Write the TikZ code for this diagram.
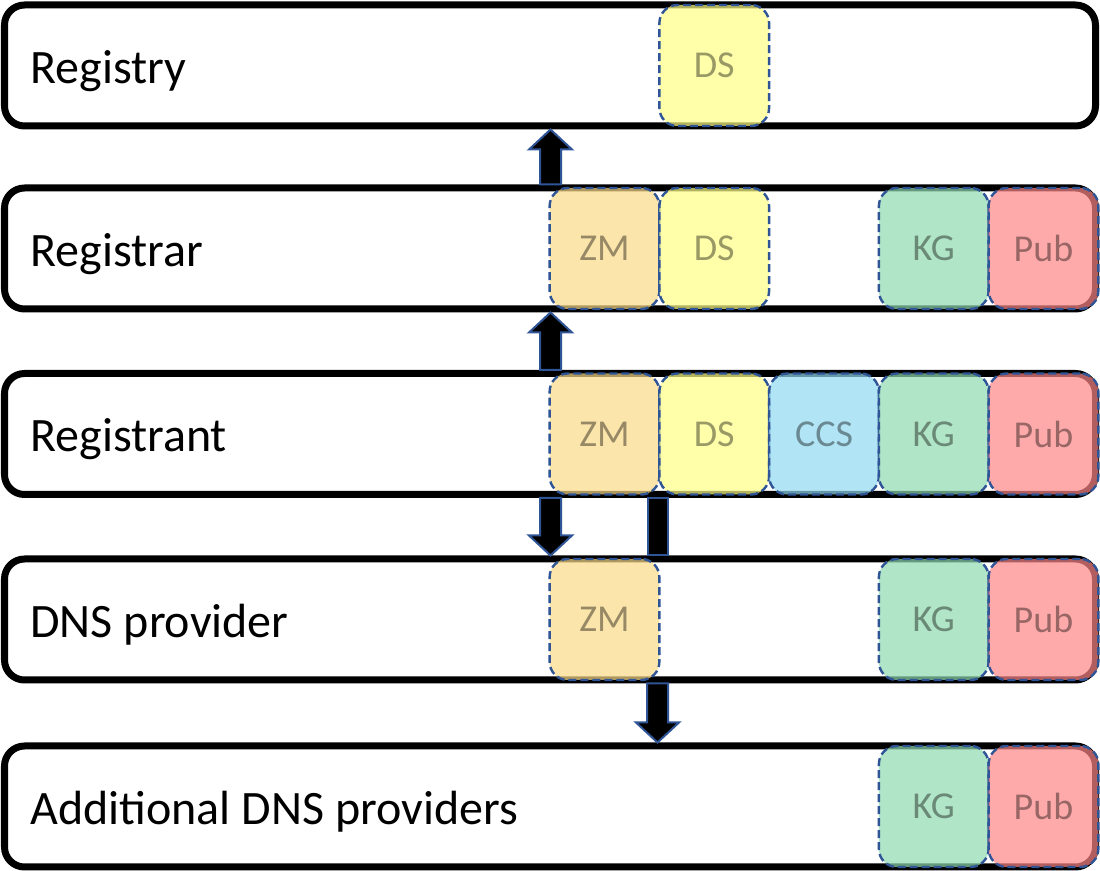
\documentclass[tikz,border=0pt]{standalone}
\usepackage{fontspec}
\setmainfont{Carlito}
\usetikzlibrary{calc}

\definecolor{zmfill}{RGB}{252,219,134}
\definecolor{dsfill}{RGB}{255,255,134}
\definecolor{ccsfill}{RGB}{145,219,241}
\definecolor{kgfill}{RGB}{145,219,176}
\definecolor{pubfill}{RGB}{255,134,134}
\definecolor{edgeblue}{RGB}{47,85,151}

\newcommand\arrowup[2]{\draw[blockarrow] ($(#1)+(-10.5,0)$) -- ($(#2)+(-10.5,20)$) -- ($(#2)+(-21.5,20)$) -- (#2) -- ($(#2)+(21.5,20)$) -- ($(#2)+(10.5,20)$) -- ($(#1)+(10.5,0)$) -- cycle;}
\newcommand\arrowdown[2]{\draw[blockarrow] ($(#1)+(-10.5,0)$) -- ($(#2)+(-10.5,-20)$) -- ($(#2)+(-21.5,-20)$) -- (#2) -- ($(#2)+(21.5,-20)$) -- ($(#2)+(10.5,-20)$) -- ($(#1)+(10.5,0)$) -- cycle;}

\begin{document}
\begin{tikzpicture}[x=0.5pt, y=-0.5pt,
		layer/.style={draw=black, line width=3.5pt, rounded corners=10pt, fill=white, minimum width=545.5pt, minimum height=60.5pt, inner sep=0pt},
		layername/.style={anchor=base west, inner sep=0pt, font=\fontsize{24}{28}\selectfont},
		role/.style={draw=edgeblue, line width=1.2pt, dash pattern=on 4pt off 2pt, rounded corners=9pt, fill opacity=0.7, text opacity=0.4, minimum width=54.85pt, minimum height=60.5pt, inner sep=0pt, font=\fontsize{19}{22}\selectfont},
		blockarrow/.style={draw=edgeblue, line width=1pt, fill=black, line join=miter}]
		\useasboundingbox (0,0) rectangle (1100,871);
		\node[layer] (registry) at (550, 65.5) {};
		\node[layer] (registrar) at (550, 248.5) {};
		\node[layer] (registrant) at (550, 434) {};
		\node[layer] (dnsprovider) at (550, 619.5) {};
		\node[layer] (additional) at (550, 806.5) {};
		\node[layername] (registry-name) at ([xshift=14.5pt, yshift=-9pt]registry.west) {Registry};
		\node[layername] (registrar-name) at ([xshift=14.5pt, yshift=-9pt]registrar.west) {Registrar};
		\node[layername] (registrant-name) at ([xshift=14.5pt, yshift=-9pt]registrant.west) {Registrant};
		\node[layername] (dnsprovider-name) at ([xshift=14.5pt, yshift=-9pt]dnsprovider.west) {DNS provider};
		\node[layername] (additional-name) at ([xshift=14.5pt, yshift=-9pt]additional.west) {Additional DNS providers};
		\coordinate (zmcol) at (604.5, 0);
		\coordinate (dscol) at (714.25, 0);
		\coordinate (ccscol) at (824, 0);
		\coordinate (kgcol) at (933.75, 0);
		\coordinate (pubcol) at (1043.5, 0);
		\node[role, fill=dsfill] (registry-ds) at (dscol |- registry) {DS};
		\node[role, fill=zmfill] (registrar-zm) at (zmcol |- registrar) {ZM};
		\node[role, fill=dsfill] (registrar-ds) at (dscol |- registrar) {DS};
		\node[role, fill=kgfill] (registrar-kg) at (kgcol |- registrar) {KG};
		\node[role, fill=pubfill] (registrar-pub) at (pubcol |- registrar) {Pub};
		\node[role, fill=zmfill] (registrant-zm) at (zmcol |- registrant) {ZM};
		\node[role, fill=dsfill] (registrant-ds) at (dscol |- registrant) {DS};
		\node[role, fill=ccsfill] (registrant-ccs) at (ccscol |- registrant) {CCS};
		\node[role, fill=kgfill] (registrant-kg) at (kgcol |- registrant) {KG};
		\node[role, fill=pubfill] (registrant-pub) at (pubcol |- registrant) {Pub};
		\node[role, fill=zmfill] (dnsprovider-zm) at (zmcol |- dnsprovider) {ZM};
		\node[role, fill=kgfill] (dnsprovider-kg) at (kgcol |- dnsprovider) {KG};
		\node[role, fill=pubfill] (dnsprovider-pub) at (pubcol |- dnsprovider) {Pub};
		\node[role, fill=kgfill] (additional-kg) at (kgcol |- additional) {KG};
		\node[role, fill=pubfill] (additional-pub) at (pubcol |- additional) {Pub};
		\coordinate (leftarrows) at (550.5, 0);
		\coordinate (rightarrows) at (657.5, 0);
		\coordinate (up1-base) at (registrar.north -| leftarrows);
		\coordinate (up1-tip) at (registry.south -| leftarrows);
		\coordinate (up2-base) at (registrant.north -| leftarrows);
		\coordinate (up2-tip) at (registrar.south -| leftarrows);
		\coordinate (down1-base) at (registrant.south -| leftarrows);
		\coordinate (down1-tip) at (dnsprovider.north -| leftarrows);
		\coordinate (bar-top) at (registrant.south -| rightarrows);
		\coordinate (bar-bottom) at (dnsprovider.north -| rightarrows);
		\coordinate (down2-base) at (dnsprovider.south -| rightarrows);
		\coordinate (down2-tip) at (additional.north -| rightarrows);
		\arrowup{up1-base}{up1-tip}
		\arrowup{up2-base}{up2-tip}
		\arrowdown{down1-base}{down1-tip}
		\draw[blockarrow] ($(bar-top)+(-10,0)$) rectangle ($(bar-bottom)+(10,0)$);
		\arrowdown{down2-base}{down2-tip}
	\end{tikzpicture}
\end{document}
